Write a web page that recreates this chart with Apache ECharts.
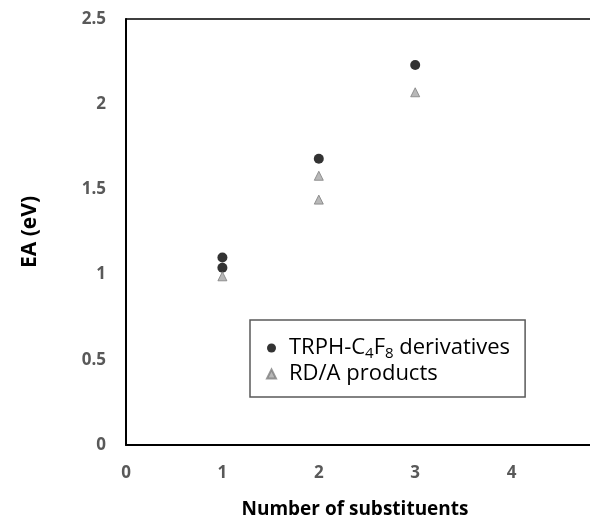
<!DOCTYPE html>
<html>
<head>
<meta charset="UTF-8">
<title>EA vs number of substituents</title>
<script src="https://cdn.jsdelivr.net/npm/echarts@6/dist/echarts.min.js"></script>
<style>
html, body { margin: 0; padding: 0; background: #fff; }
#main { width: 590px; height: 523px; }
</style>
</head>
<body>
<div id="main"></div>
<script>
// data
var trphX = [1, 1, 2, 3];
var trphY = [1.10, 1.04, 1.68, 2.23];
var rdaX = [1, 2, 2, 3];
var rdaY = [0.99, 1.58, 1.44, 2.07];
var xTicks = [0, 1, 2, 3, 4, 5];
var yTicks = [0, 0.5, 1, 1.5, 2, 2.5];

function pairs(xs, ys) {
  var out = [];
  for (var i = 0; i < xs.length; i++) out.push([xs[i], ys[i]]);
  return out;
}

var font = '"Open Sans", "Liberation Sans", sans-serif';
var myChart = echarts.init(document.getElementById('main'));

var option = {
  animation: false,
  grid: {
    left: 126, top: 19, width: 482, height: 426,
    outerBoundsMode: 'none'
  },
  // the plot runs past the right edge of the picture; hide the clamped edge
  graphic: [{
    type: 'rect', z: 100,
    shape: { x: 582, y: 21, width: 10, height: 422 },
    style: { fill: '#fff' }
  }],
  xAxis: [{
    type: 'value',
    min: xTicks[0], max: xTicks[xTicks.length - 1], interval: 1,
    name: 'Number of substituents',
    nameLocation: 'middle', nameGap: 55,
    nameTextStyle: { fontFamily: font, fontWeight: 'bold', fontSize: 19, color: '#000', padding: [0, 24, 0, 0] },
    axisLine: { lineStyle: { color: '#000', width: 2 } },
    axisTick: { show: false },
    splitLine: { show: false },
    axisLabel: { fontFamily: font, fontWeight: 'bold', fontSize: 17, color: '#595959', margin: 20 }
  }, {
    // top border of the plot area
    type: 'value', position: 'top',
    min: xTicks[0], max: xTicks[xTicks.length - 1], interval: 1,
    axisLine: { lineStyle: { color: '#000', width: 1.5 } },
    axisTick: { show: false },
    axisLabel: { show: false },
    splitLine: { show: false }
  }],
  yAxis: {
    type: 'value',
    min: yTicks[0], max: yTicks[yTicks.length - 1], interval: 0.5,
    name: 'EA (eV)',
    nameLocation: 'middle', nameGap: 85, nameRotate: 90,
    nameTextStyle: { fontFamily: font, fontWeight: 'bold', fontSize: 21, color: '#000' },
    axisLine: { show: true, lineStyle: { color: '#000', width: 2 } },
    axisTick: { show: false },
    splitLine: { show: false },
    axisLabel: { fontFamily: font, fontWeight: 'bold', fontSize: 17, color: '#595959', margin: 20 }
  },
  legend: {
    orient: 'vertical',
    left: 250, top: 320,
    padding: [15, 15, 10, 16],
    itemGap: 0,
    itemWidth: 9, itemHeight: 9,
    backgroundColor: '#fff',
    borderColor: '#595959', borderWidth: 1.5,
    data: ['trph', 'rda'],
    formatter: function (name) {
      if (name === 'trph') return 'TRPH-C{sub|4}F{sub|8} derivatives';
      return 'RD/A products';
    },
    textStyle: {
      fontFamily: font, fontSize: 22, color: '#000', lineHeight: 26, padding: [0, 0, 0, 8],
      rich: { sub: { fontFamily: font, fontSize: 15, color: '#000', lineHeight: 26, verticalAlign: 'bottom', padding: [6, 0, 0, 0] } }
    }
  },
  series: [
    {
      name: 'trph', type: 'scatter',
      data: pairs(trphX, trphY),
      symbol: 'circle', symbolSize: 10,
      itemStyle: { color: '#000' }
    },
    {
      name: 'rda', type: 'scatter',
      data: pairs(rdaX, rdaY),
      symbol: 'triangle', symbolSize: 9,
      itemStyle: { color: '#a6a6a6', borderColor: '#7f7f7f', borderWidth: 1 }
    }
  ]
};

myChart.setOption(option);
</script>
</body>
</html>
